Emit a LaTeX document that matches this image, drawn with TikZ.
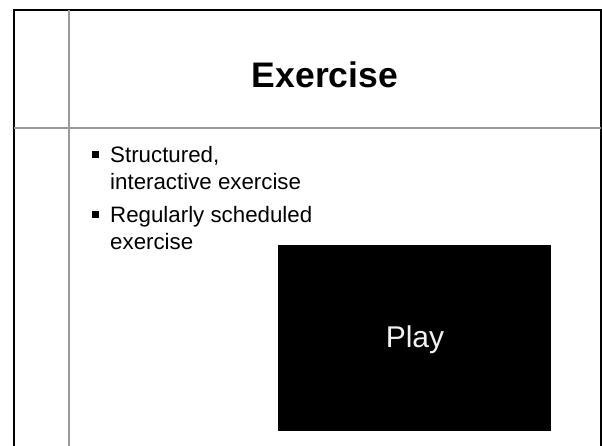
\documentclass[tikz,border=0pt]{standalone}
\usepackage{fontspec}
\setmainfont{Liberation Sans}
\usepackage{tikz}

\begin{document}
\begin{tikzpicture}[x=1pt,y=-1pt,
    rule/.style={line width=1.5pt, black!40},
    frame/.style={line width=2pt, black},
    bullet/.style={fill=black, minimum size=7pt, inner sep=0pt},
    itemtext/.style={anchor=base west, inner sep=0pt, align=left,
        font=\fontsize{22.3}{27}\selectfont}]
        \useasboundingbox (0,0) rectangle (602,446);
        \draw[frame] (14,446) -- (14,10) -- (600.8,10) -- (600.8,446);
        \draw[rule] (69,10) -- (69,446);
        \draw[rule] (14,128) -- (600.8,128);
        \node[anchor=base, font=\fontsize{35.5}{40}\bfseries\selectfont] (title) at (325,88) {Exercise};
        % last line sits on the base anchor
        \node[bullet] (b1) at (95,155) {};
        \node[itemtext] (item1) at (110,190) {Structured,\\interactive exercise};
        \node[bullet] (b2) at (95,215) {};
        \node[itemtext] (item2) at (110,250) {Regularly scheduled\\exercise};
        \node[fill=black, minimum width=273pt, minimum height=186pt, inner sep=0pt] (player) at (414.5,338) {};
        \node[anchor=base, text=black!5, font=\fontsize{30}{34}\selectfont] (play) at (415,347) {Play};
    \end{tikzpicture}
\end{document}
